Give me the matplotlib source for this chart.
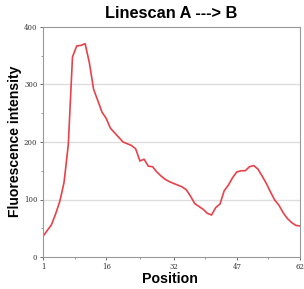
import matplotlib
matplotlib.use("Agg")
import matplotlib.pyplot as plt

# intensity profile, one value per position 1..62
position = list(range(1, 63))
intensity = [36, 46, 56, 75, 97, 130, 195, 348, 367, 368,
             371, 338, 292, 272, 252, 241, 224, 216, 208, 200,
             197, 194, 188, 167, 170, 158, 157, 148, 141, 135,
             131, 128, 125, 122, 117, 106, 93, 88, 83, 76,
             73, 86, 92, 115, 125, 138, 148, 150, 150, 157,
             159, 153, 141, 128, 113, 99, 90, 77, 67, 60,
             55, 54]
xticks = [1, 16, 32, 47, 62]
yticks = [0, 100, 200, 300, 400]

plt.rcParams["font.family"] = ["Liberation Sans", "DejaVu Sans"]

fig = plt.figure(figsize=(3.04, 2.89), dpi=100)
ax = fig.add_axes([43/304, 1 - 257/289, 257/304, 230/289])

ax.plot(position, intensity, color="#e8414a", linewidth=1.2)

ax.set_xlim(1, 62)
ax.set_ylim(0, 400)
ax.set_xticks(xticks)
ax.set_xticks([8.5, 24, 39.5, 54.5], minor=True)
ax.set_yticks(yticks)
ax.set_yticks([50, 150, 250, 350], minor=True)
ax.tick_params(labelsize=5, colors="#555555", length=2, width=0.6, pad=2)
ax.tick_params(which="minor", length=1.5, width=0.6, colors="#888888")
for lab in ax.get_xticklabels() + ax.get_yticklabels():
    lab.set_color("#333333")
    lab.set_family("DejaVu Serif")

for y in [100, 200, 300]:
    ax.axhline(y, color="#dddddd", linewidth=1.0, zorder=0)
for s in ax.spines.values():
    s.set_color("#999999")
    s.set_linewidth(0.8)

fig.text(171/304, 1 - 13/289, "Linescan A ---> B", ha="center", va="center",
         fontsize=11.8, fontweight="bold")
fig.text(170/304, 1 - 279/289, "Position", ha="center", va="center",
         fontsize=10.2, fontweight="bold")
fig.text(15.5/304, 1 - 141/289, "Fluorescence intensity", ha="center", va="center",
         rotation=90, fontsize=10.1, fontweight="bold")

fig.savefig("out.png", dpi=100)
